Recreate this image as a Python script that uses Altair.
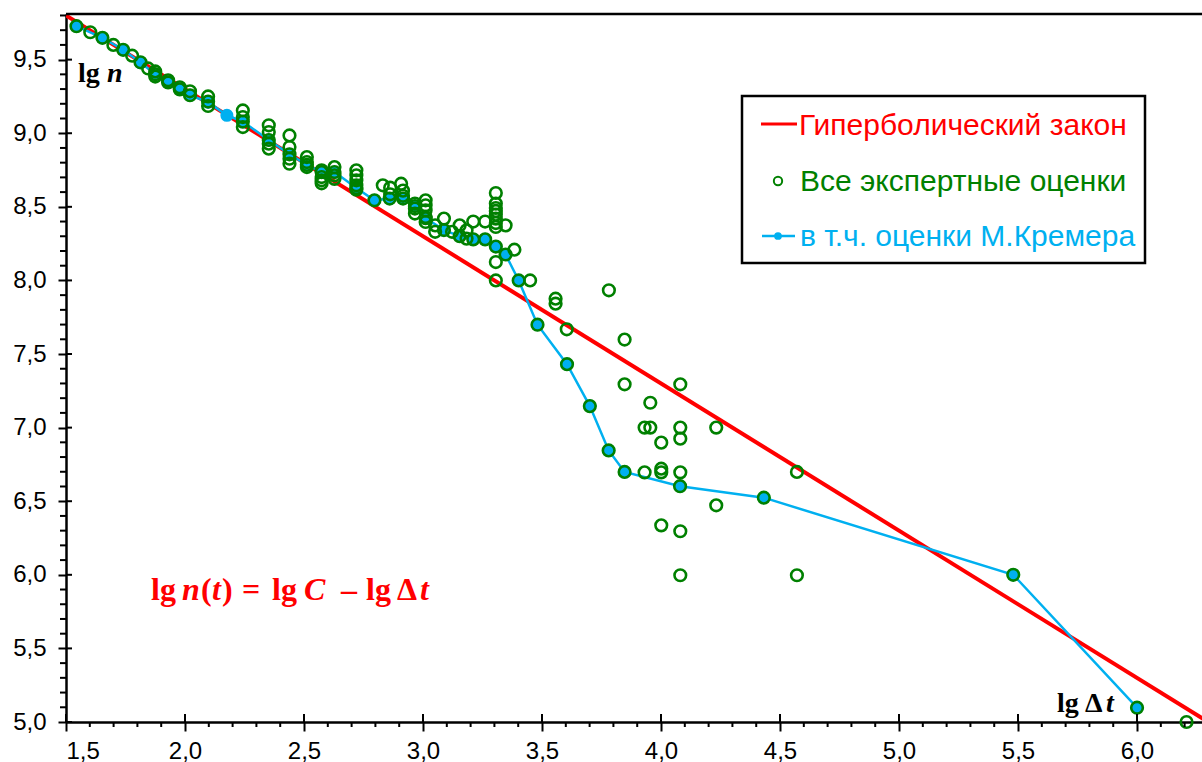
import altair as alt
import numpy as np
import pandas as pd

# М.Кремер: lg Δt и lg n
kremer_lg_dt = [1.544, 1.653, 1.740, 1.813, 1.875, 1.929, 1.978, 2.021, 2.097, 2.176,
                2.243, 2.352, 2.439, 2.512, 2.574, 2.628, 2.720, 2.796, 2.860, 2.916,
                2.966, 3.011, 3.088, 3.154, 3.211, 3.261, 3.306, 3.347, 3.402, 3.481,
                3.605, 3.701, 3.780, 3.847, 4.080, 4.432, 5.480, 6.000]
kremer_lg_n = [9.727, 9.648, 9.567, 9.480, 9.401, 9.345, 9.298, 9.258, 9.211, 9.122,
               9.079, 8.954, 8.857, 8.785, 8.736, 8.736, 8.628, 8.544, 8.556, 8.556,
               8.505, 8.423, 8.342, 8.301, 8.279, 8.279, 8.230, 8.176, 8.000, 7.699,
               7.431, 7.146, 6.845, 6.699, 6.602, 6.524, 6.000, 5.097]

# Все экспертные оценки
all_lg_dt = [1.544, 1.602, 1.653, 1.699, 1.740, 1.778, 1.813, 1.845, 1.875, 1.875,
             1.875, 1.929, 1.929, 1.978, 1.978, 2.021, 2.021, 2.097, 2.097, 2.097,
             2.243, 2.243, 2.243, 2.243,
             2.352, 2.352, 2.352, 2.352, 2.352,
             2.439, 2.439, 2.439, 2.439, 2.439,
             2.512, 2.512, 2.512, 2.512,
             2.574, 2.574, 2.574, 2.574, 2.574,
             2.628, 2.628, 2.628, 2.628,
             2.720, 2.720, 2.720, 2.720, 2.720, 2.720,
             2.796, 2.831, 2.862, 2.862, 2.860, 2.908, 2.916, 2.916, 2.916,
             2.966, 2.966, 2.966, 2.966,
             3.011, 3.011, 3.011, 3.011, 3.011, 3.011,
             3.051, 3.051, 3.088, 3.088, 3.122, 3.154, 3.154, 3.183, 3.183,
             3.211, 3.211, 3.261, 3.261,
             3.306, 3.306, 3.306, 3.306, 3.306, 3.306, 3.306, 3.306, 3.306, 3.306, 3.306,
             3.347, 3.347, 3.384, 3.402, 3.450, 3.481, 3.557, 3.557, 3.604, 3.605,
             3.781, 3.847, 3.847, 4.081, 3.955, 3.701, 3.931, 3.955, 4.081, 4.081,
             4.232, 4.001, 3.780, 3.847, 3.931, 4.001, 4.001, 4.081, 4.080, 4.232,
             4.432, 4.001, 4.081, 4.081, 4.571, 4.571, 5.480, 6.000, 6.208]
all_lg_n = [9.727, 9.686, 9.648, 9.600, 9.567, 9.527, 9.482, 9.440, 9.420, 9.401,
            9.385, 9.360, 9.345, 9.312, 9.298, 9.285, 9.258, 9.250, 9.215, 9.185,
            9.155, 9.110, 9.079, 9.042,
            9.054, 9.008, 8.954, 8.929, 8.895,
            8.985, 8.906, 8.857, 8.827, 8.793,
            8.838, 8.804, 8.785, 8.770,
            8.748, 8.736, 8.702, 8.680, 8.660,
            8.770, 8.736, 8.714, 8.690,
            8.748, 8.714, 8.680, 8.646, 8.628, 8.617,
            8.544, 8.646, 8.630, 8.585, 8.556, 8.657, 8.610, 8.575, 8.556,
            8.522, 8.505, 8.488, 8.454,
            8.544, 8.510, 8.476, 8.431, 8.423, 8.397,
            8.374, 8.330, 8.420, 8.342, 8.330, 8.374, 8.301, 8.340, 8.284,
            8.400, 8.279, 8.400, 8.279,
            8.594, 8.522, 8.492, 8.472, 8.447, 8.420, 8.390, 8.363, 8.230, 8.125, 8.000,
            8.374, 8.176, 8.209, 8.000, 8.000, 7.699, 7.876, 7.842, 7.668, 7.431,
            7.933, 7.598, 7.294, 7.294, 7.169, 7.146, 7.000, 7.000, 7.000, 6.925,
            7.000, 6.898, 6.845, 6.699, 6.696, 6.721, 6.696, 6.696, 6.602, 6.472,
            6.524, 6.336, 6.296, 5.997, 6.699, 5.997, 6.000, 5.097, 5.000]

# Гиперболический закон: lg n = lg C - lg Δt (концы отрезка)
law_lg_dt = [1.5, 6.3]
law_lg_n = [9.8, 5.0]

x_major = [1.5, 2.0, 2.5, 3.0, 3.5, 4.0, 4.5, 5.0, 5.5, 6.0]
y_major = [5.0, 5.5, 6.0, 6.5, 7.0, 7.5, 8.0, 8.5, 9.0, 9.5]
x_minor = [v for v in np.round(np.arange(1.6, 6.25, 0.1), 1) if v not in x_major]
y_minor = [v for v in np.round(np.arange(5.1, 9.8, 0.1), 1) if v not in y_major]

W, H = 1136, 708
RED = "#ff0000"
GREEN = "#008000"
BLUE = "#00b0f0"
SANS = "Liberation Sans"
SERIF = "Liberation Serif"

comma = "replace(format(datum.value, '.1f'), '.', ',')"
xscale = alt.Scale(domain=[1.5, 6.273], nice=False, zero=False)
yscale = alt.Scale(domain=[5.0, 9.81], nice=False, zero=False)
xaxis = alt.Axis(values=x_major, labelExpr=comma, title=None, grid=False,
                 tickSize=9, tickWidth=2, tickColor="black",
                 domainColor="black", domainWidth=2.5,
                 labelFont=SANS, labelFontSize=24, labelColor="black",
                 labelPadding=8)
yaxis = alt.Axis(values=y_major, labelExpr=comma, title=None, grid=False,
                 tickSize=8, tickWidth=2, tickColor="black",
                 domainColor="black", domainWidth=2.5,
                 labelFont=SANS, labelFontSize=24, labelColor="black",
                 labelPadding=12)

X = lambda f: alt.X(f, type="quantitative", scale=xscale, axis=xaxis)
Y = lambda f: alt.Y(f, type="quantitative", scale=yscale, axis=yaxis)

kremer = pd.DataFrame({"x": kremer_lg_dt, "y": kremer_lg_n})
estimates = pd.DataFrame({"x": all_lg_dt, "y": all_lg_n})
law = pd.DataFrame({"x": law_lg_dt, "y": law_lg_n})
one = pd.DataFrame({"k": [0]})

law_line = alt.Chart(law).mark_line(color=RED, strokeWidth=4, clip=True).encode(
    x=X("x"), y=Y("y"))
kremer_line = alt.Chart(kremer).mark_line(color=BLUE, strokeWidth=2.5).encode(
    x=X("x"), y=Y("y"), order="x:Q")
kremer_pts = alt.Chart(kremer).mark_circle(color=BLUE, opacity=1, size=170).encode(
    x=X("x"), y=Y("y"))
est_pts = alt.Chart(estimates).mark_point(
    shape="circle", filled=False, color=GREEN, strokeWidth=2.6, size=135, opacity=1
).encode(x=X("x"), y=Y("y"))

# minor ticks and the inner halves of the major ticks
tx_minor = alt.Chart(pd.DataFrame({"v": x_minor})).mark_rule(color="black", strokeWidth=2).encode(
    x=X("v"), y=alt.value(H), y2=alt.value(H + 5))
tx_major = alt.Chart(pd.DataFrame({"v": x_major})).mark_rule(color="black", strokeWidth=2).encode(
    x=X("v"), y=alt.value(H - 8), y2=alt.value(H))
ty_minor = alt.Chart(pd.DataFrame({"v": y_minor})).mark_rule(color="black", strokeWidth=2).encode(
    y=Y("v"), x=alt.value(-6), x2=alt.value(0))
ty_major = alt.Chart(pd.DataFrame({"v": y_major})).mark_rule(color="black", strokeWidth=2).encode(
    y=Y("v"), x=alt.value(0), x2=alt.value(6))

top_line = alt.Chart(one).mark_rule(color="black", strokeWidth=2.5).encode(
    x=alt.value(0), x2=alt.value(W), y=alt.value(0))


def txt(s, x, y, size, color="black", font=SANS, weight="normal", style="normal",
        baseline="alphabetic"):
    return alt.Chart(one).mark_text(
        text=s, align="left", baseline=baseline, font=font, fontSize=size,
        fontWeight=weight, fontStyle=style, color=color
    ).encode(x=alt.value(x), y=alt.value(y))


# legend box
legend_box = alt.Chart(one).mark_rect(fill="white", stroke="black", strokeWidth=2.5).encode(
    x=alt.value(676), x2=alt.value(1079), y=alt.value(82), y2=alt.value(249))
leg_red = alt.Chart(one).mark_rule(color=RED, strokeWidth=3).encode(
    x=alt.value(695), x2=alt.value(731), y=alt.value(110))
leg_green = alt.Chart(one).mark_point(shape="circle", filled=False, color=GREEN,
                                      strokeWidth=2, size=70, opacity=1).encode(
    x=alt.value(712), y=alt.value(167))
leg_blue = alt.Chart(one).mark_rule(color=BLUE, strokeWidth=2.5).encode(
    x=alt.value(696), x2=alt.value(729), y=alt.value(222))
leg_blue_dot = alt.Chart(one).mark_circle(color=BLUE, size=60, opacity=1).encode(
    x=alt.value(712), y=alt.value(222))
leg_t1 = txt("Гиперболический закон", 733, 112, 30, RED, baseline="middle")
leg_t2 = txt("Все экспертные оценки", 734, 168, 30, GREEN, baseline="middle")
leg_t3 = txt("в т.ч. оценки М.Кремера", 734, 223, 30, BLUE, baseline="middle")

# axis captions
cap_n1 = txt("lg", 12, 68, 28, font=SERIF, weight="bold")
cap_n2 = txt("n", 41, 68, 28, font=SERIF, weight="bold", style="italic")
cap_t1 = txt("lg", 991, 698, 28, font=SERIF, weight="bold")
cap_t2 = txt("Δ", 1019, 698, 28, font=SERIF, weight="bold")
cap_t3 = txt("t", 1040, 698, 28, font=SERIF, weight="bold", style="italic")

# formula
fy = 586
formula = [
    txt("lg", 85, fy, 32, RED, SERIF, "bold"),
    txt("n", 116, fy, 32, RED, SERIF, "bold", "italic"),
    txt("(", 135, fy, 32, RED, SERIF, "bold"),
    txt("t", 146, fy, 32, RED, SERIF, "bold", "italic"),
    txt(")", 156, fy, 32, RED, SERIF, "bold"),
    txt("=", 176, fy, 32, RED, SERIF, "bold"),
    txt("lg", 206, fy, 32, RED, SERIF, "bold"),
    txt("C", 238, fy, 32, RED, SERIF, "bold", "italic"),
    txt("–", 275, fy, 32, RED, SERIF, "bold"),
    txt("lg", 300, fy, 32, RED, SERIF, "bold"),
    txt("Δ", 331, fy, 32, RED, SERIF, "bold"),
    txt("t", 354, fy, 32, RED, SERIF, "bold", "italic"),
]

chart = alt.layer(
    law_line, kremer_line, kremer_pts, est_pts,
    tx_minor, tx_major, ty_minor, ty_major, top_line,
    legend_box, leg_red, leg_green, leg_blue, leg_blue_dot, leg_t1, leg_t2, leg_t3,
    cap_n1, cap_n2, cap_t1, cap_t2, cap_t3, *formula
).properties(
    width=W, height=H,
    autosize=alt.AutoSizeParams(type="none"),
    padding={"left": 66, "top": 14, "right": 0, "bottom": 40},
    background="white",
).configure_view(stroke=None)

chart.save("out.html", embed_options={"renderer": "svg", "actions": False})
